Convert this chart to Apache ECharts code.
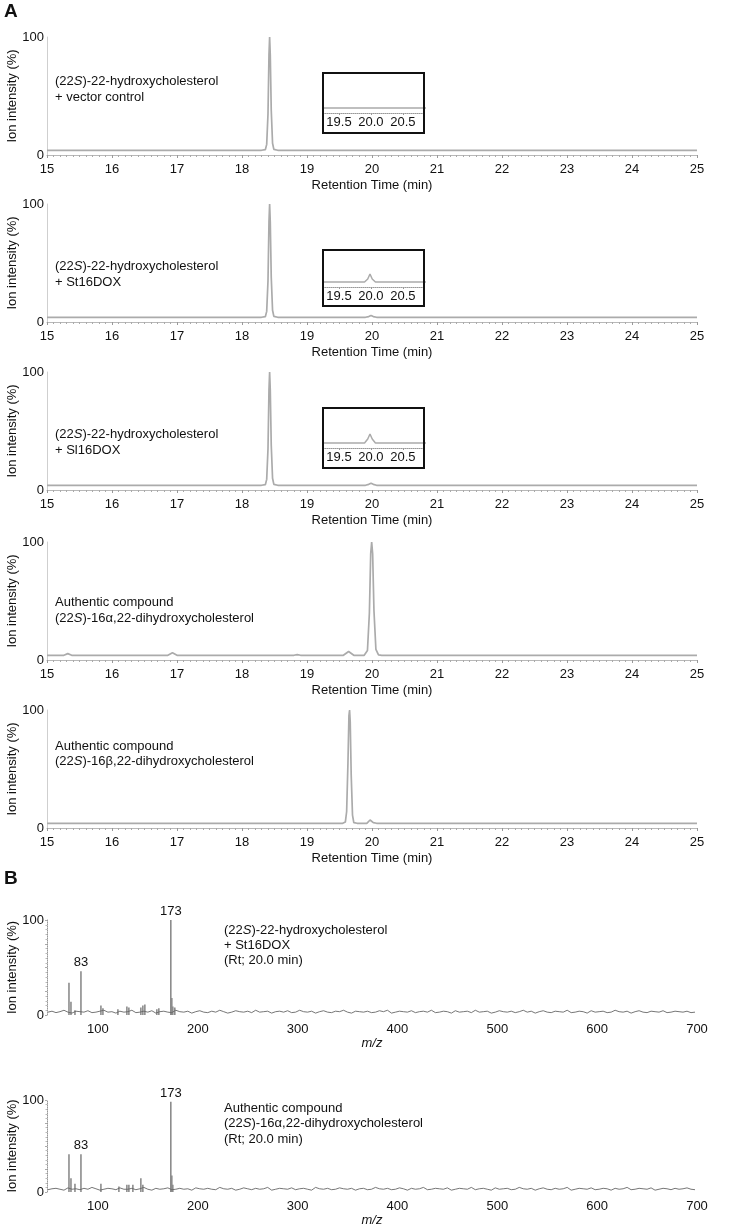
<!DOCTYPE html>
<html><head><meta charset="utf-8">
<script src="https://cdn.jsdelivr.net/npm/echarts@6/dist/echarts.min.js"></script>
<style>html,body{margin:0;padding:0;background:#fff}#c{width:751px;height:1227px}</style>
</head><body><div id="c"></div>
<script>
// ---------- DATA ----------
const rtMin = 15, rtMax = 25;
const insetTickLabels = [19.5, 20.0, 20.5];
const mzTickLabels = [100, 200, 300, 400, 500, 600, 700];

// chromatogram traces [retention time (min), intensity %]
const traceVector = [[15,4],[18.30,4],[18.36,4.6],[18.38,9],[18.40,35],[18.415,85],[18.425,100],[18.435,85],[18.45,38],[18.47,10],[18.49,4.8],[18.55,4],[25,4]];
const traceSt16 = [[15,4],[18.30,4],[18.36,4.6],[18.38,9],[18.40,35],[18.415,85],[18.425,100],[18.435,85],[18.45,38],[18.47,10],[18.49,4.8],[18.55,4],[19.90,4],[19.95,4.6],[19.985,5.6],[20.02,4.6],[20.07,4],[25,4]];
const traceSl16 = [[15,4],[18.30,4],[18.36,4.6],[18.38,9],[18.40,35],[18.415,85],[18.425,100],[18.435,85],[18.45,38],[18.47,10],[18.49,4.8],[18.55,4],[19.90,4],[19.95,4.8],[19.985,5.8],[20.02,4.8],[20.07,4],[25,4]];
const traceAlpha = [[15,4],[15.26,4],[15.32,5.4],[15.38,4],[16.86,4],[16.93,6.2],[17.0,4],[18.80,4],[18.85,4.6],[18.90,4],[19.56,4],[19.64,7.2],[19.72,4],[19.88,4],[19.93,8],[19.96,40],[19.98,90],[19.995,100],[20.01,90],[20.03,42],[20.06,9],[20.10,4.3],[20.15,4],[25,4]];
const traceBeta = [[15,4],[19.55,4],[19.59,5],[19.61,14],[19.63,55],[19.645,95],[19.655,100],[19.665,90],[19.68,45],[19.70,11],[19.72,4.6],[19.77,4],[19.92,4],[19.97,6.8],[20.02,4.5],[20.07,4],[25,4]];
const traces = [traceVector, traceSt16, traceSl16, traceAlpha, traceBeta];

const panelTexts = [
  ["(22{i|S})-22-hydroxycholesterol", "+ vector control"],
  ["(22{i|S})-22-hydroxycholesterol", "+ St16DOX"],
  ["(22{i|S})-22-hydroxycholesterol", "+ Sl16DOX"],
  ["Authentic compound", "(22{i|S})-16α,22-dihydroxycholesterol"],
  ["Authentic compound", "(22{i|S})-16β,22-dihydroxycholesterol"]
];

// mass spectra: sticks [m/z, relative intensity %]
const peaksSt16 = [[71,34],[73,14],[77,5],[83,46],[103,10],[105,7],[120,6],[129,9],[131,8],[143,8],[145,10],[147,11],[159,6],[161,7],[173,100],[174,18],[175,9],[177,8]];
const peaksAlpha = [[71,41],[73,15],[77,9],[83,41],[103,9],[121,6],[129,8],[131,8],[135,8],[143,15],[145,8],[173,98],[174,18],[175,8]];
const noiseStart = 50, noiseStep = 4;
const noiseSt16 = [3,4,2.5,3.5,5,3,2,4,3.5,3,4.5,2.5,3,4,5,3,3.5,2,4,3,
3.5,5,2.5,3,4,3,4.5,2,3.5,4,3,2.5,5,3.5,3,4,2,3.5,4.5,3,
2.5,4,3,5,3.5,2,3,4.5,3.5,3,4,2.5,5,3,3.5,4,2,3.5,4,3,
4.5,2.5,3,5,3.5,3,4,2,3.5,4.5,3,2.5,4,3.5,5,3,2,4,3.5,3,
4,2.5,3,4.5,3.5,5,2,3,4,3.5,3,4.5,2.5,3.5,4,3,5,2.5,3,4,
3.5,2,4.5,3,3.5,4,2.5,5,3,3.5,4,2,3,4.5,3.5,3,4,2.5,3.5,5,
3,4,2,3.5,4.5,3,2.5,4,3.5,3,5,2.5,3,4,3.5,2,4.5,3,3.5,4,
2.5,3,5,3.5,3,4,2,3.5,4.5,3,2.5,4,3.5,3,4.5,2.5,3,4,3.5,3,
4,2.5,3];
const noiseAlpha = [2.5,3.5,4,3,2,4.5,3,3.5,2.5,4,3,5,3.5,2,3,4,3.5,2.5,4.5,3,
3,4,2.5,3.5,5,3,2,4,3,3.5,4.5,2.5,3,4,3,3.5,2,4.5,3.5,3,
4,3,2.5,5,3.5,3,4,2,3,4.5,3.5,2.5,4,3,3.5,5,2,3,4,3.5,
3,4.5,2.5,3.5,4,3,2,5,3.5,3,4,2.5,3,4.5,3.5,3,4,2,3.5,4,
2.5,3,5,3.5,3,4,2.5,3,4.5,3.5,2,4,3,3.5,5,2.5,3,4,3.5,3,
4.5,2,3,4,3.5,3,5,2.5,3.5,4,3,2,4.5,3,3.5,4,2.5,3,5,3.5,
3,4,2,3.5,4.5,3,2.5,4,3,3.5,5,2,3,4,3.5,3,4.5,2.5,3,4,
3.5,2,4,3,3.5,5,2.5,3,4,3.5,3,4.5,2,3,4,3.5,2.5,4,3,3.5,
4.5,3,2.5];
const labelledPeaks = [83, 173];
const specTexts = [
  ["(22{i|S})-22-hydroxycholesterol", "+ St16DOX", "(Rt; 20.0 min)"],
  ["Authentic compound", "(22{i|S})-16α,22-dihydroxycholesterol", "(Rt; 20.0 min)"]
];

// ---------- LAYOUT ----------
const FONT = "Liberation Sans, Arial, Helvetica, sans-serif";
const gLeft = 47, gWidth = 650;
const panelAxisY = [155, 322, 490, 660, 828];
const panelH = 118;
const textY = [[81, 97], [266, 282], [434, 450], [602, 618], [746, 761]];
const insetBoxes = [[323, 73, 101, 60], [323, 250, 101, 56], [323, 408, 101, 60]];
const insetAxisY = [113, 287, 448];
const specTop = [920, 1100], specH = [95, 92];
const specTextY = [[930, 945, 960], [1108, 1123, 1139]];

const grids = [], xAxes = [], yAxes = [], series = [], graphics = [];
const txtStyle = (t, x, y, size) => ({type: 'text', x: x, y: y, silent: true,
  style: {text: t, fontFamily: FONT, fontSize: size, fill: '#111', verticalAlign: 'middle',
    rich: {i: {fontStyle: 'italic', fontFamily: FONT, fontSize: size, fill: '#111'}}}});
const yName = {name: 'Ion intensity (%)', nameLocation: 'middle', nameGap: 28, nameMoveOverlap: false,
  nameTextStyle: {fontFamily: FONT, fontSize: 13, color: '#111'}};

// chromatograms
traces.forEach((tr, i) => {
  const gi = grids.length;
  grids.push({left: gLeft, width: gWidth, top: panelAxisY[i] - panelH, height: panelH, outerBoundsMode: 'none', containLabel: false});
  xAxes.push({gridIndex: gi, type: 'value', min: rtMin, max: rtMax, interval: 1,
    name: 'Retention Time (min)', nameLocation: 'middle', nameGap: 24,
    nameTextStyle: {fontFamily: FONT, fontSize: 13, color: '#111'},
    axisLine: {lineStyle: {color: '#b8b8b8', width: 1}},
    axisTick: {show: true, length: 3, lineStyle: {color: '#999'}},
    minorTick: {show: true, splitNumber: 10, length: 2, lineStyle: {color: '#aaa'}},
    splitLine: {show: false},
    axisLabel: {fontFamily: FONT, fontSize: 13, color: '#111', margin: 8}});
  yAxes.push(Object.assign({gridIndex: gi, type: 'value', min: 0, max: 100, interval: 100,
    axisLine: {show: true, lineStyle: {color: '#cfcfcf', width: 1}},
    axisTick: {show: false}, splitLine: {show: false},
    axisLabel: {fontFamily: FONT, fontSize: 13, color: '#111', margin: 3}}, yName));
  series.push({type: 'line', xAxisIndex: gi, yAxisIndex: gi, data: tr, showSymbol: false,
    lineStyle: {color: '#ababab', width: 1.7}, animation: false, silent: true});
  graphics.push(txtStyle(panelTexts[i][0], 55, textY[i][0], 13));
  graphics.push(txtStyle(panelTexts[i][1], 55, textY[i][1], 13));
});

// insets (panels 1-3)
insetBoxes.forEach((b, k) => {
  const gi = grids.length;
  const top = b[1] + 2, h = insetAxisY[k] - top;
  grids.push({left: b[0], width: b[2], top: top, height: h, outerBoundsMode: 'none', containLabel: false});
  xAxes.push({gridIndex: gi, type: 'value', min: 19.25, max: 20.83,
    axisLine: {lineStyle: {color: '#999', width: 1, type: 'dotted'}},
    axisTick: {show: true, length: 2, customValues: insetTickLabels, lineStyle: {color: '#999'}},
    minorTick: {show: false}, splitLine: {show: false},
    axisLabel: {customValues: insetTickLabels, formatter: v => v.toFixed(1),
      fontFamily: FONT, fontSize: 13, color: '#111', margin: 3}});
  yAxes.push({gridIndex: gi, type: 'value', min: 3, max: 3 + h / 5, show: false});
  series.push({type: 'line', xAxisIndex: gi, yAxisIndex: gi, data: traces[k], showSymbol: false, clip: true,
    lineStyle: {color: '#ababab', width: 1.5}, animation: false, silent: true});
  graphics.push({type: 'rect', silent: true, shape: {x: b[0], y: b[1], width: b[2], height: b[3]},
    style: {fill: 'none', stroke: '#111', lineWidth: 2}, z: 10});
});

// spectra
[[peaksSt16, noiseSt16], [peaksAlpha, noiseAlpha]].forEach((pair, s) => {
  const gi = grids.length;
  grids.push({left: gLeft, width: gWidth, top: specTop[s], height: specH[s], outerBoundsMode: 'none', containLabel: false});
  xAxes.push({gridIndex: gi, type: 'value', min: 49, max: 700,
    name: 'm/z', nameLocation: 'middle', nameGap: 22,
    nameTextStyle: {fontFamily: FONT, fontSize: 13, color: '#111', fontStyle: 'italic'},
    axisLine: {show: false}, axisTick: {show: false}, splitLine: {show: false},
    axisLabel: {customValues: mzTickLabels, fontFamily: FONT, fontSize: 13, color: '#111', margin: 8}});
  yAxes.push(Object.assign({gridIndex: gi, type: 'value', min: 0, max: 100, interval: 25,
    axisLine: {show: true, lineStyle: {color: '#999', width: 1, type: 'dotted'}},
    axisTick: {show: true, length: 2, lineStyle: {color: '#aaa'}},
    minorTick: {show: true, splitNumber: 5, length: 1.5, lineStyle: {color: '#bbb'}},
    splitLine: {show: false},
    axisLabel: {fontFamily: FONT, fontSize: 13, color: '#111', margin: 3,
      formatter: v => (v === 0 || v === 100) ? String(v) : ''}}, yName));
  const noiseData = pair[1].map((v, j) => [noiseStart + j * noiseStep, v]);
  series.push({type: 'line', xAxisIndex: gi, yAxisIndex: gi, data: noiseData, showSymbol: false,
    lineStyle: {color: '#666', width: 0.9}, animation: false, silent: true});
  series.push({type: 'bar', xAxisIndex: gi, yAxisIndex: gi, barWidth: 1.6, animation: false, silent: true,
    itemStyle: {color: '#8c8c8c'},
    data: pair[0].map(p => labelledPeaks.includes(p[0])
      ? {value: p, label: {show: true, position: 'top', distance: 2, formatter: String(p[0]),
          fontFamily: FONT, fontSize: 13, color: '#111'}}
      : {value: p})});
  specTexts[s].forEach((t, j) => graphics.push(txtStyle(t, 224, specTextY[s][j], 13)));
});

graphics.push({type: 'text', x: 4, y: 2, silent: true, style: {text: 'A', fontFamily: FONT, fontSize: 19, fontWeight: 'bold', fill: '#111'}});
graphics.push({type: 'text', x: 4, y: 869, silent: true, style: {text: 'B', fontFamily: FONT, fontSize: 19, fontWeight: 'bold', fill: '#111'}});

const chart = echarts.init(document.getElementById('c'), null, {renderer: 'canvas'});
chart.setOption({animation: false, backgroundColor: '#fff', grid: grids, xAxis: xAxes, yAxis: yAxes, series: series, graphic: graphics});
</script></body></html>
